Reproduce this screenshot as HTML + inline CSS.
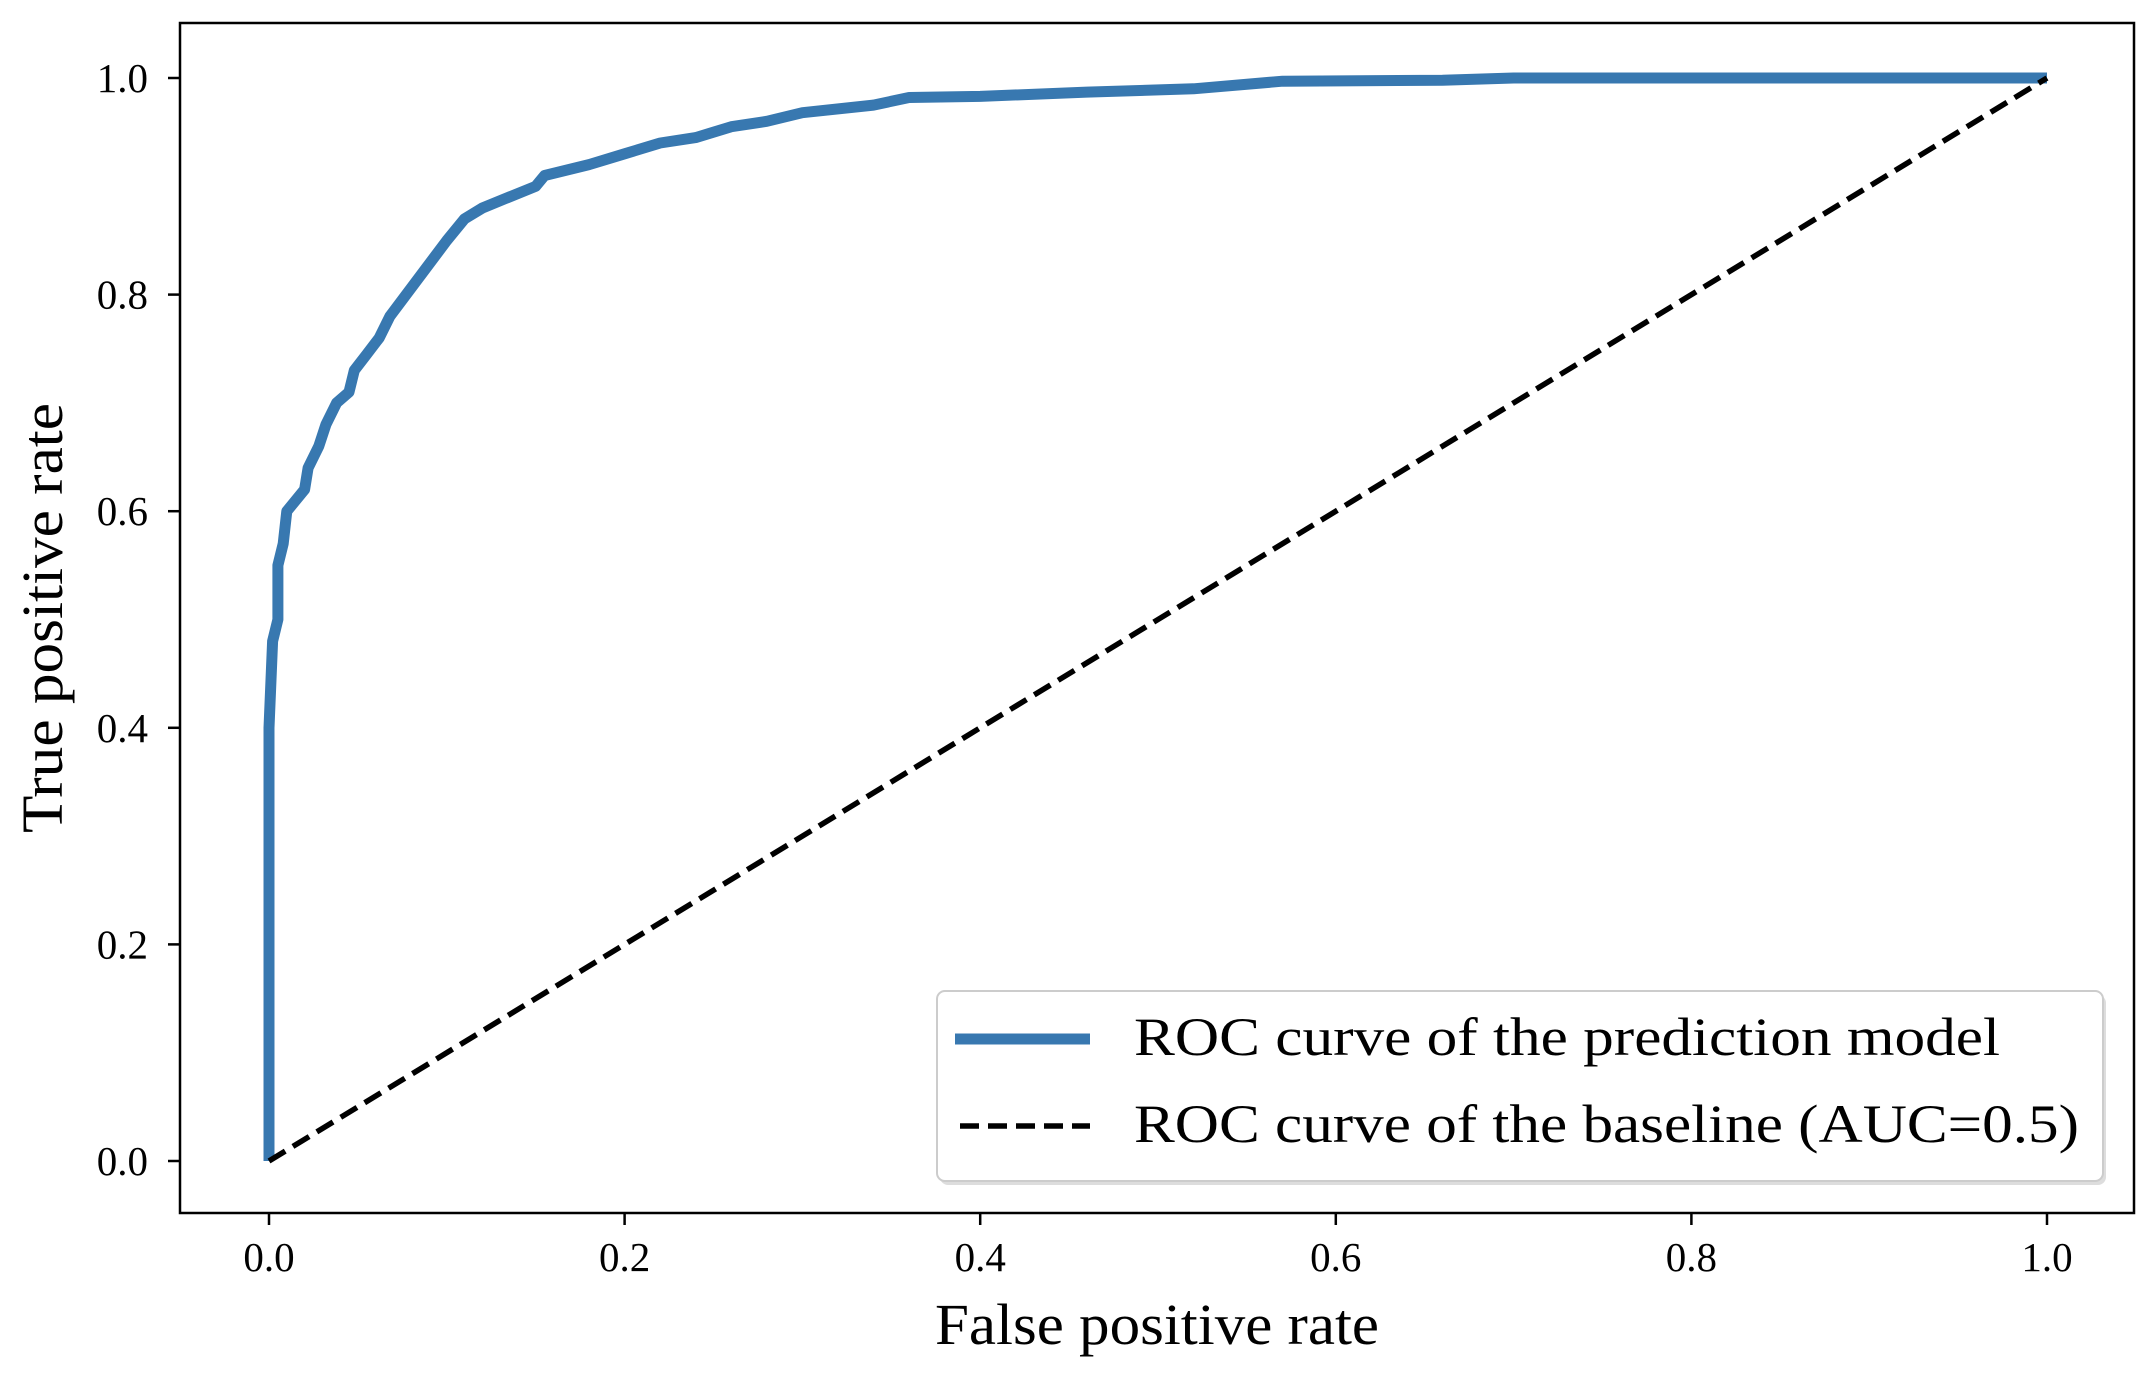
<!DOCTYPE html>
<html><head><meta charset="utf-8"><style>
html,body{margin:0;padding:0;background:#fff}
svg{display:block;font-family:"Liberation Serif",serif}
</style></head><body>
<svg id="chart" width="2155" height="1374" viewBox="0 0 2155 1374">
<g id="plot"></g>
</svg>
<script>
const fprValues=[0,0,0.002,0.005,0.005,0.008,0.01,0.015,0.02,0.022,0.028,0.032,0.038,0.045,0.048,0.055,0.062,0.068,0.1,0.11,0.12,0.135,0.15,0.155,0.18,0.2,0.22,0.24,0.26,0.28,0.3,0.34,0.36,0.4,0.46,0.52,0.57,0.66,0.7,1];
const tprValues=[0,0.4,0.48,0.5,0.55,0.57,0.6,0.61,0.62,0.64,0.66,0.68,0.70,0.71,0.73,0.745,0.76,0.78,0.85,0.87,0.88,0.89,0.9,0.91,0.92,0.93,0.94,0.945,0.955,0.96,0.968,0.975,0.982,0.983,0.987,0.99,0.997,0.998,1,1];
const baselineX=[0,1];
const baselineY=[0,1];
const xTicks=[0,0.2,0.4,0.6,0.8,1.0];
const yTicks=[0,0.2,0.4,0.6,0.8,1.0];
const xTickLabels=["0.0","0.2","0.4","0.6","0.8","1.0"];
const yTickLabels=["0.0","0.2","0.4","0.6","0.8","1.0"];

const NS="http://www.w3.org/2000/svg";
const g=document.getElementById('plot');
const L=180,R=2134,T=23,B=1213;
const X0=269,X1=2047,Y0=1161,Y1=78;
function sx(v){return X0+(X1-X0)*v;}
function sy(v){return Y0+(Y1-Y0)*v;}
function mk(tag,attrs,parent){const e=document.createElementNS(NS,tag);for(const k in attrs)e.setAttribute(k,attrs[k]);(parent||g).appendChild(e);return e;}

let d=fprValues.map((v,i)=>(i?'L':'M')+sx(v).toFixed(1)+' '+sy(tprValues[i]).toFixed(1)).join(' ');
const roc=mk('path',{d:d,fill:'none',stroke:'#3878b0','stroke-width':11,'stroke-linejoin':'round'});


let d2=baselineX.map((v,i)=>(i?'L':'M')+sx(v)+' '+sy(baselineY[i])).join(' ');
const base=mk('path',{d:d2,fill:'none',stroke:'#000','stroke-width':5.5,'stroke-dasharray':'19 9'});



const frame=mk('rect',{x:L,y:T,width:R-L,height:B-T,fill:'none',stroke:'#000','stroke-width':2.5});



xTicks.forEach((v,i)=>{
  const t=mk('line',{x1:sx(v),x2:sx(v),y1:B,y2:B+12,stroke:'#000','stroke-width':2.5});
  
  
  const lb=mk('text',{x:sx(v),y:1271,'text-anchor':'middle','font-size':41});
  lb.textContent=xTickLabels[i];
  
  
});
yTicks.forEach((v,i)=>{
  const t=mk('line',{x1:L-12,x2:L,y1:sy(v),y2:sy(v),stroke:'#000','stroke-width':2.5});
  
  
  const lb=mk('text',{x:148,y:sy(v)+14,'text-anchor':'end','font-size':41});
  lb.textContent=yTickLabels[i];
  
  
});
const xt=mk('text',{x:1157,y:1344,'text-anchor':'middle','font-size':58,textLength:444,lengthAdjust:'spacingAndGlyphs'});
xt.textContent='False positive rate';


const yt=mk('text',{x:0,y:0,'text-anchor':'middle','font-size':58,textLength:430,lengthAdjust:'spacingAndGlyphs',transform:'translate(62,618) rotate(-90)'});
yt.textContent='True positive rate';



const lg=mk('g',{});


mk('rect',{x:940,y:995,width:1166,height:190,rx:8,fill:'#ddd'},lg);
mk('rect',{x:937,y:991,width:1166,height:190,rx:8,fill:'#fff',stroke:'#ccc','stroke-width':2},lg);
const h1=mk('line',{x1:955,x2:1090,y1:1039,y2:1039,stroke:'#3878b0','stroke-width':11},lg);


const h2=mk('line',{x1:960,x2:1090,y1:1126,y2:1126,stroke:'#000','stroke-width':5.5,'stroke-dasharray':'19 9'},lg);


const t1=mk('text',{x:1134,y:1055,'font-size':54,textLength:866,lengthAdjust:'spacingAndGlyphs'},lg);
t1.textContent='ROC curve of the prediction model';


const t2=mk('text',{x:1134,y:1142,'font-size':54,textLength:945,lengthAdjust:'spacingAndGlyphs'},lg);
t2.textContent='ROC curve of the baseline (AUC=0.5)';


</script>
</body></html>
